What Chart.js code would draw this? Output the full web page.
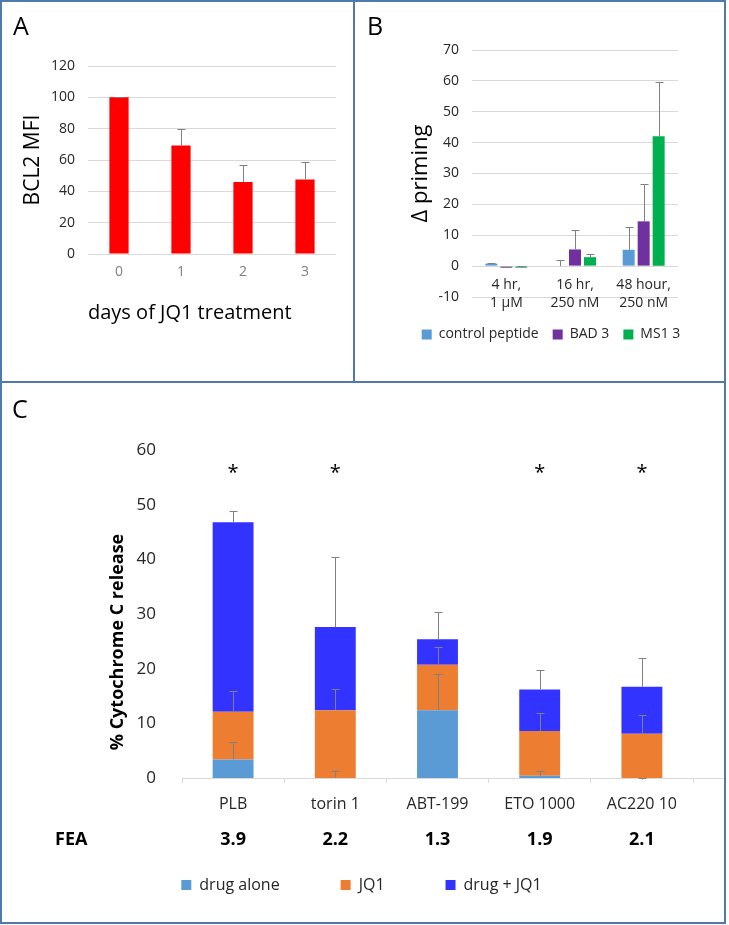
<!DOCTYPE html>
<html>
<head>
<meta charset="utf-8">
<script src="https://cdn.jsdelivr.net/npm/chart.js@4.4.1/dist/chart.umd.min.js"></script>
<style>
  body { margin: 0; background: #fff; font-family: 'Open Sans', sans-serif; }
  #fig { position: relative; width: 729px; height: 925px; }
  canvas { position: absolute; }
  .line { position: absolute; background: #5079ad; z-index: 2; }
  .frame { position: absolute; left: 0; top: 0; width: 726px; height: 924px; box-sizing: border-box; border: 2px solid #5079ad; z-index: 2; }
  .tag { position: absolute; font-size: 25px; line-height: 25px; color: #000; }
</style>
</head>
<body>
<div id="fig">
  <canvas id="chartA" width="353" height="381" style="left:0;top:0"></canvas>
  <canvas id="chartB" width="370" height="381" style="left:355px;top:0"></canvas>
  <canvas id="chartC" width="725" height="540" style="left:0;top:383px"></canvas>
  <div class="frame"></div>
  <div class="line" style="left:353px;top:0;width:2px;height:383px"></div>
  <div class="line" style="left:0;top:381px;width:726px;height:2px"></div>
  <div class="tag" style="left:13px;top:13px">A</div>
  <div class="tag" style="left:367px;top:13px">B</div>
  <div class="tag" style="left:12px;top:396px">C</div>
</div>
<script>
// panel A: BCL2 MFI over days of JQ1
const daysLabels = ['0', '1', '2', '3'];
const bcl2Mfi = [100, 69.2, 45.9, 47.6];
const bcl2Err = [0.3, 10.4, 10.6, 11.4];

// panel B: delta priming
const primingLabels = [['4 hr,', '1 µM'], ['16 hr,', '250 nM'], ['48 hour,', '250 nM']];
const controlPeptide = [0.8, 0, 5.3];
const controlErr = [0.3, 2.1, 7.3];
const bad3 = [-0.5, 5.4, 14.5];
const bad3Err = [0.3, 6.3, 12.1];
const ms13 = [-0.5, 2.9, 42.1];
const ms13Err = [0.7, 1.1, 17.6];

// panel C: cytochrome C release (stacked)
const drugs = ['PLB', 'torin 1', 'ABT-199', 'ETO 1000', 'AC220 10'];
const drugAlone = [3.4, 0, 12.4, 0.4, -0.3];
const drugAloneErr = [3.2, 1.3, 6.6, 0.8, 0.3];
const jq1 = [8.7, 12.4, 8.3, 8.2, 8.1];
const jq1Err = [3.9, 3.9, 3.3, 3.3, 3.4];
const drugJq1 = [34.7, 15.2, 4.7, 7.6, 8.6];
const drugJq1Err = [2.0, 12.8, 5.0, 3.6, 5.3];
const fea = ['3.9', '2.2', '1.3', '1.9', '2.1'];
const significant = [true, true, false, true, true];

Chart.defaults.font.family = "'Open Sans', sans-serif";
Chart.defaults.animation = false;
Chart.defaults.plugins.tooltip.enabled = false;

// plus-only error bars, drawn from the top of each bar
const errorBars = {
  id: 'errorBars',
  afterDatasetsDraw(chart) {
    const ctx = chart.ctx;
    const y = chart.scales.y;
    ctx.save();
    ctx.strokeStyle = '#808080';
    ctx.lineWidth = 1;
    chart.data.datasets.forEach((ds, i) => {
      if (!ds.errorPlus) return;
      chart.getDatasetMeta(i).data.forEach((bar, j) => {
        const err = ds.errorPlus[j];
        if (err == null) return;
        const len = y.getPixelForValue(0) - y.getPixelForValue(err);
        const x = Math.round(bar.x) + 0.5;
        const top = Math.round(bar.y - len) + 0.5;
        ctx.beginPath();
        ctx.moveTo(x, bar.y);
        ctx.lineTo(x, top);
        ctx.moveTo(x - 4, top);
        ctx.lineTo(x + 4, top);
        ctx.stroke();
      });
    });
    ctx.restore();
  }
};

new Chart(document.getElementById('chartA'), {
  type: 'bar',
  data: {
    labels: daysLabels,
    datasets: [{ data: bcl2Mfi, errorPlus: bcl2Err, backgroundColor: '#ff0000', categoryPercentage: 1, barPercentage: 0.31 }]
  },
  options: {
    responsive: false,
    layout: { padding: { top: 66, right: 17, left: 0, bottom: 0 } },
    scales: {
      x: {
        grid: { display: false, drawTicks: false }, border: { display: false },
        ticks: { color: '#808080', font: { size: 14 }, padding: 10 },
        title: { display: true, text: 'days of JQ1 treatment', align: 'start', color: '#000', font: { size: 20 }, padding: { top: 0, bottom: 56 } },
        afterFit(s) { s.height = 127; }
      },
      y: {
        min: 0, max: 120,
        ticks: { stepSize: 20, color: '#262626', font: { size: 14 }, padding: 13 },
        grid: { color: '#d9d9d9', drawTicks: false }, border: { display: false },
        title: { display: true, text: 'BCL2 MFI', color: '#000', font: { size: 21 }, padding: { top: 20, bottom: 0 } },
        afterFit(s) { s.width = 88; }
      }
    },
    plugins: { legend: { display: false } }
  },
  plugins: [errorBars]
});

new Chart(document.getElementById('chartB'), {
  type: 'bar',
  data: {
    labels: primingLabels,
    datasets: [
      { label: 'control peptide', data: controlPeptide, errorPlus: controlErr, backgroundColor: '#5b9bd5' },
      { label: 'BAD 3', data: bad3, errorPlus: bad3Err, backgroundColor: '#7030a0' },
      { label: 'MS1 3', data: ms13, errorPlus: ms13Err, backgroundColor: '#00b050' }
    ]
  },
  options: {
    responsive: false,
    categoryPercentage: 0.655,
    barPercentage: 0.8,
    layout: { padding: { top: 50, left: 22, right: 0, bottom: 29.5 } },
    scales: {
      x: {
        position: { y: 0 },
        grid: { display: false, drawTicks: false }, border: { display: false },
        ticks: { color: '#262626', font: { size: 14, lineHeight: 1.3 }, padding: 10, maxRotation: 0 }
      },
      y: {
        min: -10, max: 70,
        ticks: { stepSize: 10, color: '#262626', font: { size: 14 }, padding: 13 },
        grid: { color: '#d9d9d9', drawTicks: false }, border: { display: false },
        title: { display: true, text: 'Δ priming', color: '#000', font: { size: 22 }, padding: { top: 31, bottom: 0 } },
        afterFit(s) { s.width = 95; }
      },
      yRight: {
        position: 'right', display: true,
        ticks: { display: false }, grid: { display: false }, border: { display: false },
        afterFit(s) { s.width = 47; }
      }
    },
    plugins: {
      legend: {
        position: 'bottom',
        title: { display: true, text: '', font: { size: 10 }, padding: { top: 4.5, bottom: 0 } },
        labels: { boxWidth: 10, boxHeight: 10, padding: 14, color: '#262626', font: { size: 14 } }
      }
    }
  },
  plugins: [errorBars]
});

// extra text for panel C: asterisks, FEA row, y title, axis line running on to the frame
const panelCText = {
  id: 'panelCText',
  afterDraw(chart) {
    const ctx = chart.ctx;
    const x = chart.scales.x;
    const y = chart.scales.y;
    const area = chart.chartArea;
    ctx.save();
    ctx.strokeStyle = '#d9d9d9';
    ctx.lineWidth = 1;
    ctx.beginPath();
    ctx.moveTo(area.right, Math.round(area.bottom) + 0.5);
    ctx.lineTo(chart.width, Math.round(area.bottom) + 0.5);
    ctx.stroke();
    ctx.fillStyle = '#000';
    ctx.textAlign = 'center';
    ctx.textBaseline = 'middle';
    ctx.font = "20px 'Open Sans', sans-serif";
    significant.forEach((s, i) => {
      if (s) ctx.fillText('*', x.getPixelForValue(i), y.getPixelForValue(55.8));
    });
    ctx.font = "bold 18px 'Open Sans', sans-serif";
    fea.forEach((v, i) => ctx.fillText(v, x.getPixelForValue(i), area.bottom + 62));
    ctx.textAlign = 'left';
    ctx.fillText('FEA', 55, area.bottom + 62);
    ctx.translate(area.left - 64, (area.top + area.bottom) / 2 + 28);
    ctx.rotate(-Math.PI / 2);
    ctx.textAlign = 'center';
    ctx.font = "bold 18px 'Open Sans', sans-serif";
    ctx.fillText('% Cytochrome C release', 0, 0);
    ctx.restore();
  }
};

new Chart(document.getElementById('chartC'), {
  type: 'bar',
  data: {
    labels: drugs,
    datasets: [
      { label: 'drug alone', data: drugAlone, errorPlus: drugAloneErr, backgroundColor: '#5b9bd5' },
      { label: 'JQ1', data: jq1, errorPlus: jq1Err, backgroundColor: '#ed7d31' },
      { label: 'drug + JQ1', data: drugJq1, errorPlus: drugJq1Err, backgroundColor: '#3333ff' }
    ]
  },
  options: {
    responsive: false,
    categoryPercentage: 0.8,
    barPercentage: 0.5,
    layout: { padding: { top: 67, left: 30, right: 32, bottom: 20 } },
    scales: {
      x: {
        stacked: true,
        grid: { display: true, drawOnChartArea: false, tickLength: 5, color: '#d9d9d9' },
        border: { display: true, color: '#d9d9d9' },
        ticks: { color: '#262626', font: { size: 16 }, padding: 12, maxRotation: 0, autoSkip: false },
        afterFit(s) { s.height = 38; }
      },
      y: {
        stacked: true,
        min: 0, max: 60,
        ticks: { stepSize: 10, color: '#262626', font: { size: 17 }, padding: 18 },
        grid: { display: false }, border: { display: false },
        afterFit(s) { s.width = 152; }
      }
    },
    plugins: {
      legend: {
        position: 'bottom',
        labels: { boxWidth: 10, boxHeight: 10, padding: 61, color: '#262626', font: { size: 16 } }
      }
    }
  },
  plugins: [errorBars, panelCText]
});
</script>
</body>
</html>
